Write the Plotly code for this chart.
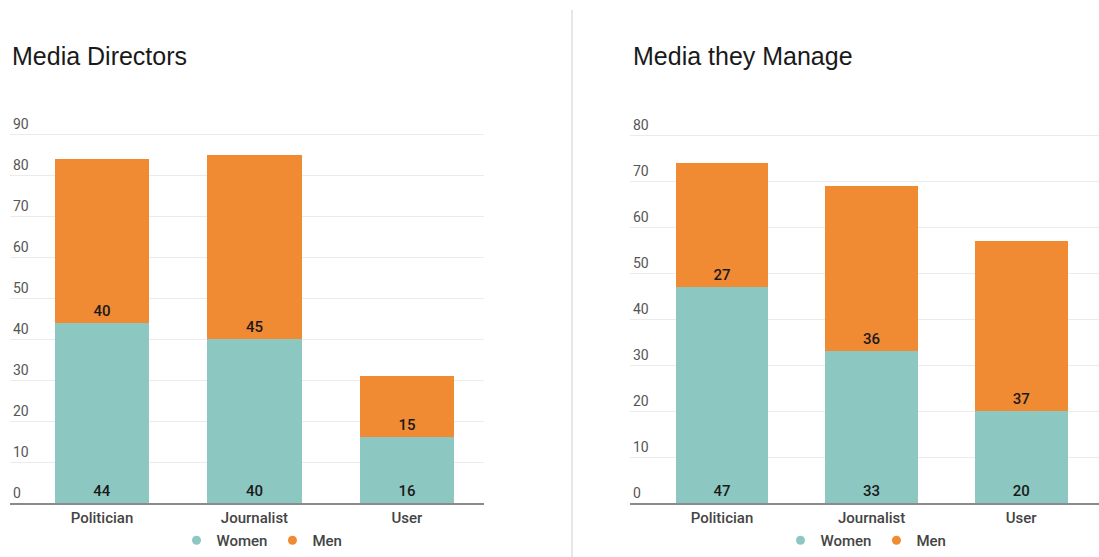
import plotly.graph_objects as go

W, H = 1099, 557

categories = ["Politician", "Journalist", "User"]

directors_women = [44, 40, 16]
directors_men = [40, 45, 15]

managed_women = [47, 33, 20]
managed_men = [27, 36, 37]

left_ticks = [0, 10, 20, 30, 40, 50, 60, 70, 80, 90]
right_ticks = [0, 10, 20, 30, 40, 50, 60, 70, 80]

TEAL = "#8cc8c1"
ORANGE = "#f08a33"
LABEL_FONT = dict(family="Roboto", size=15, color="#1a1a1a", weight=500)


def px_x(p):
    return p / W


def px_y(p):
    return (H - p) / H


fig = go.Figure()


def add_stack(women, men, xa, ya):
    for name, vals, color in (("Women", women, TEAL), ("Men", men, ORANGE)):
        fig.add_trace(go.Bar(
            x=categories, y=vals, name=name,
            marker=dict(color=color, line=dict(width=0)),
            text=vals, texttemplate="%{text}",
            textposition="inside", insidetextanchor="start",
            textangle=0, constraintext="none",
            textfont=LABEL_FONT,
            xaxis=xa, yaxis=ya, showlegend=False, hoverinfo="skip",
        ))


add_stack(directors_women, directors_men, "x", "y")
add_stack(managed_women, managed_men, "x2", "y2")

# legend entries with round markers, one legend per panel
for leg, xa, ya in (("legend", "x", "y"), ("legend2", "x2", "y2")):
    for name, color in (("Women", TEAL), ("Men", ORANGE)):
        fig.add_trace(go.Scatter(
            x=[None], y=[None], mode="markers", name=name,
            marker=dict(color=color, size=9, symbol="circle"),
            xaxis=xa, yaxis=ya, legend=leg, showlegend=True,
        ))

axis_font = dict(family="Roboto", size=15, color="#444444", weight=500)
ytick_font = dict(family="Roboto", size=14, color="#555555")

legend_common = dict(
    orientation="h", yanchor="bottom", xanchor="center", y=0,
    font=dict(family="Roboto", size=15, color="#444444", weight=500),
    itemwidth=30, bgcolor="rgba(0,0,0,0)", traceorder="normal",
)

# value-to-pixel scale: 90 units over 369 px (left), 80 over 368 px (right);
# the ranges run a little past the top tick so its label has room
L_TOP, R_TOP = 97, 87
left_top_px = 503 - 369 / 90 * L_TOP
right_top_px = 503 - 368 / 80 * R_TOP

fig.update_layout(
    width=W, height=H,
    margin=dict(l=0, r=0, t=0, b=0),
    paper_bgcolor="white", plot_bgcolor="white",
    barmode="stack", bargap=0.38,
    showlegend=True,
    xaxis=dict(
        domain=[px_x(10), px_x(484)], range=[-0.603, 2.505],
        showgrid=False, showline=True, linecolor="#8a8a8a", linewidth=2,
        ticks="", tickfont=axis_font, anchor="y", zeroline=False,
        fixedrange=True,
    ),
    yaxis=dict(
        domain=[px_y(503), px_y(left_top_px)], range=[0, L_TOP],
        tickvals=left_ticks, ticklabelposition="inside top",
        tickfont=ytick_font, showgrid=True, gridcolor="#ebebeb", gridwidth=1,
        zeroline=False, showline=False, ticks="", anchor="x",
        fixedrange=True,
    ),
    xaxis2=dict(
        domain=[px_x(630), 1.0], range=[-0.615, 2.52],
        showgrid=False, showline=True, linecolor="#8a8a8a", linewidth=2,
        ticks="", tickfont=axis_font, anchor="y2", zeroline=False,
        fixedrange=True,
    ),
    yaxis2=dict(
        domain=[px_y(503), px_y(right_top_px)], range=[0, R_TOP],
        tickvals=right_ticks, ticklabelposition="inside top",
        tickfont=ytick_font, showgrid=True, gridcolor="#ebebeb", gridwidth=1,
        zeroline=False, showline=False, ticks="", anchor="x2",
        fixedrange=True,
    ),
    legend=dict(x=px_x(262), **legend_common),
    legend2=dict(x=px_x(866), **legend_common),
    shapes=[dict(
        type="line", xref="paper", yref="paper",
        x0=px_x(572), x1=px_x(572), y0=0, y1=px_y(10),
        line=dict(color="#e6e6e6", width=2),
    )],
    annotations=[
        dict(text="Media Directors", xref="paper", yref="paper",
             x=px_x(10), y=px_y(56), xanchor="left", yanchor="middle",
             showarrow=False,
             font=dict(family="Liberation Sans", size=25, color="#1a1a1a")),
        dict(text="Media they Manage", xref="paper", yref="paper",
             x=px_x(631), y=px_y(56), xanchor="left", yanchor="middle",
             showarrow=False,
             font=dict(family="Liberation Sans", size=25, color="#1a1a1a")),
    ],
)

fig.write_html("out.html")
